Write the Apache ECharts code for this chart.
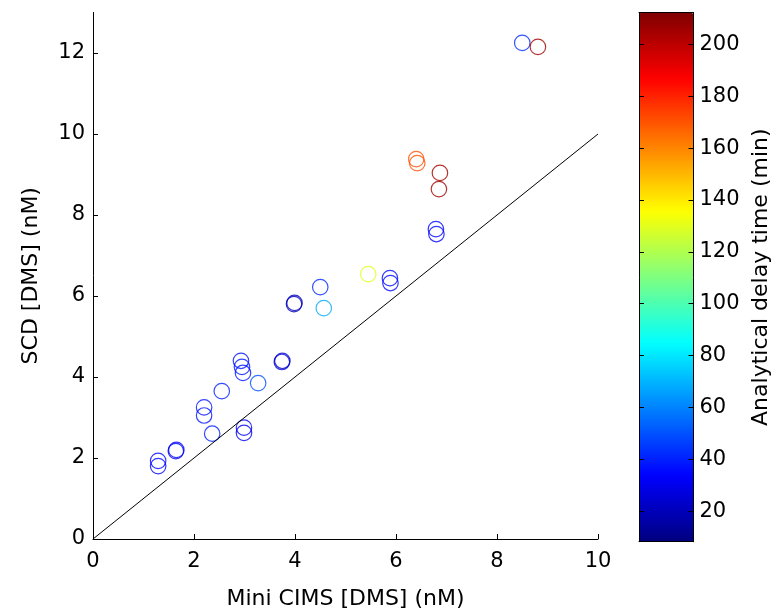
<!DOCTYPE html>
<html>
<head>
<meta charset="utf-8">
<script src="https://cdn.jsdelivr.net/npm/echarts@6/dist/echarts.min.js"></script>
<style>html,body{margin:0;padding:0;background:#fff}#c{width:778px;height:609px}</style>
</head>
<body>
<div id="c"></div>
<script>
// ---- data ----
var miniCims = [1.29, 1.29, 1.64, 1.65, 2.20, 2.20, 2.36, 2.55, 2.93, 2.95, 2.97, 2.99, 2.99, 3.27, 3.74, 3.75, 3.98, 3.99, 4.50, 4.57, 5.45, 5.88, 5.89, 6.40, 6.42, 6.87, 6.85, 6.79, 6.80, 8.50, 8.81];
var scd      = [1.93, 1.80, 2.17, 2.20, 3.25, 3.05, 2.60, 3.65, 4.40, 4.25, 4.10, 2.75, 2.62, 3.85, 4.37, 4.40, 5.80, 5.83, 6.22, 5.70, 6.54, 6.44, 6.32, 9.38, 9.28, 9.04, 8.64, 7.65, 7.53, 12.25, 12.15];
var delay    = [35, 35, 32, 32, 38, 38, 40, 40, 38, 38, 38, 30, 30, 50, 25, 25, 20, 20, 42, 68, 130, 36, 36, 170, 170, 205, 205, 35, 35, 42, 205];
var oneToOneX = [0, 10];
var oneToOneY = [0, 10];
var xTicks = [0, 2, 4, 6, 8, 10];
var yTicks = [0, 2, 4, 6, 8, 10, 12];
var cbTicks = [20, 40, 60, 80, 100, 120, 140, 160, 180, 200];
var cbMin = 8.2, cbMax = 212.2;

var jet = ['#00007F','#0000FF','#007FFF','#00FFFF','#7FFF7F','#FFFF00','#FF7F00','#FF0000','#7F0000'];
function hex(c){return [parseInt(c.substr(1,2),16),parseInt(c.substr(3,2),16),parseInt(c.substr(5,2),16)];}
function jetColor(v){
  var t = (v - cbMin) / (cbMax - cbMin);
  t = Math.max(0, Math.min(1, t));
  var p = t * (jet.length - 1), i = Math.min(Math.floor(p), jet.length - 2), f = p - i;
  var a = hex(jet[i]), b = hex(jet[i+1]);
  return 'rgb(' + [0,1,2].map(function(k){return Math.round(a[k] + (b[k]-a[k])*f);}).join(',') + ')';
}

var pts = miniCims.map(function(x, i){
  return { value: [x, scd[i], delay[i]], itemStyle: { color: 'rgba(0,0,0,0)', borderColor: jetColor(delay[i]), borderWidth: 1.2 } };
});
var linePts = oneToOneX.map(function(x, i){ return [x, oneToOneY[i]]; });

var FONT = 'DejaVu Sans';
var txt = { color: '#000', fontFamily: FONT, fontSize: 21 };
var nameTxt = { color: '#000', fontFamily: FONT, fontSize: 22 };

var chart = echarts.init(document.getElementById('c'), null, { renderer: 'canvas' });
chart.setOption({
  backgroundColor: '#fff',
  animation: false,
  grid: [
    { left: 93, top: 12.5, width: 505, height: 526.5, outerBoundsMode: 'none', containLabel: false },
    { left: 639, top: 12.7, width: 54.5, height: 529, outerBoundsMode: 'none', containLabel: false }
  ],
  xAxis: [
    { gridIndex: 0, type: 'value', min: 0, max: 10,
      name: 'Mini CIMS [DMS] (nM)', nameLocation: 'middle', nameGap: 49, nameTextStyle: nameTxt,
      axisLine: { show: true, lineStyle: { color: '#000', width: 1 } },
      axisTick: { show: true, inside: true, length: 5, customValues: xTicks, lineStyle: { color: '#000' } },
      axisLabel: Object.assign({ margin: 12, customValues: xTicks }, txt),
      splitLine: { show: false } },
    { gridIndex: 1, type: 'value', min: 0, max: 1, position: 'bottom', z: 10,
      axisLine: { show: true, onZero: false, lineStyle: { color: '#000', width: 1 } },
      axisTick: { show: false }, axisLabel: { show: false }, splitLine: { show: false } },
    { gridIndex: 1, type: 'value', min: 0, max: 1, position: 'top', z: 10,
      axisLine: { show: true, onZero: false, lineStyle: { color: '#000', width: 1 } },
      axisTick: { show: false }, axisLabel: { show: false }, splitLine: { show: false } }
  ],
  yAxis: [
    { gridIndex: 0, type: 'value', min: 0, max: 13,
      name: 'SCD [DMS] (nM)', nameLocation: 'middle', nameGap: 51, nameTextStyle: nameTxt,
      axisLine: { show: true, lineStyle: { color: '#000', width: 1 } },
      axisTick: { show: true, inside: true, length: 5, customValues: yTicks, lineStyle: { color: '#000' } },
      axisLabel: Object.assign({ margin: 8, customValues: yTicks }, txt),
      splitLine: { show: false } },
    { gridIndex: 1, type: 'value', min: cbMin, max: cbMax, position: 'right', z: 10,
      name: 'Analytical delay time (min)', nameLocation: 'middle', nameGap: 57, nameTextStyle: nameTxt,
      axisLine: { show: true, onZero: false, lineStyle: { color: '#000', width: 1 } },
      axisTick: { show: true, inside: true, length: 5, customValues: cbTicks, lineStyle: { color: '#000' } },
      axisLabel: Object.assign({ margin: 6, customValues: cbTicks }, txt),
      splitLine: { show: false } },
    { gridIndex: 1, type: 'value', min: cbMin, max: cbMax, position: 'left', z: 10,
      axisLine: { show: true, onZero: false, lineStyle: { color: '#000', width: 1 } },
      axisTick: { show: true, inside: true, length: 5, customValues: cbTicks, lineStyle: { color: '#000' } },
      axisLabel: { show: false }, splitLine: { show: false } }
  ],
  visualMap: {
    type: 'continuous', seriesIndex: 2, dimension: 1, min: cbMin, max: cbMax,
    left: 639, top: 12.7, itemWidth: 54.5, itemHeight: 529, padding: 0,
    calculable: false, realtime: false, hoverLink: false, text: ['', ''],
    inRange: { color: jet }, orient: 'vertical', z: 1
  },
  series: [
    { type: 'line', xAxisIndex: 0, yAxisIndex: 0, data: linePts, symbol: 'none', silent: true,
      lineStyle: { color: '#000', width: 1 } },
    { type: 'scatter', xAxisIndex: 0, yAxisIndex: 0, data: pts, symbol: 'circle', symbolSize: 15.5 },
    { type: 'scatter', xAxisIndex: 1, yAxisIndex: 1, data: [], symbolSize: 0 }
  ]
});
</script>
</body>
</html>
